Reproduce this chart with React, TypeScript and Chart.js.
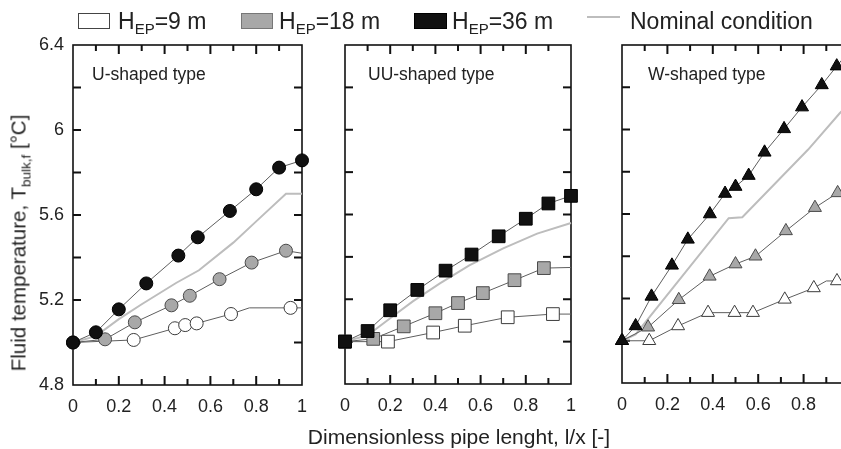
import React, { useEffect, useRef } from "react";
import { Chart, registerables } from "chart.js";
Chart.register(...registerables);

const FONT = "'Liberation Sans', Arial, Helvetica, sans-serif";

// ---- axis ticks ----
const xTicks = [0, 0.2, 0.4, 0.6, 0.8, 1];
const xInnerTicks = [0.1, 0.2, 0.3, 0.4, 0.5, 0.6, 0.7, 0.8, 0.9];
const yTicks = [4.8, 5.2, 5.6, 6, 6.4];
const yInnerTicks = [5.0, 5.2, 5.4, 5.6, 5.8, 6.0, 6.2];

// ---- labels ----
const legendValues = ["9 m", "18 m", "36 m"];
const nominalLabel = "Nominal condition";
const panelTitles = ["U-shaped type", "UU-shaped type", "W-shaped type"];

// ---- U-shaped type ----
const u36X = [0, 0.1, 0.2, 0.32, 0.46, 0.545, 0.685, 0.8, 0.9, 1.0];
const u36Y = [5.0, 5.048, 5.156, 5.278, 5.409, 5.495, 5.619, 5.721, 5.823, 5.857];
const u18X = [0, 0.14, 0.27, 0.43, 0.51, 0.64, 0.78, 0.93, 1.0];
const u18Y = [5.0, 5.015, 5.095, 5.175, 5.22, 5.298, 5.376, 5.432, 5.42];
const u18M = [1, 1, 1, 1, 1, 1, 1, 1, 0];
const u9X = [0, 0.265, 0.445, 0.49, 0.54, 0.69, 0.77, 0.95, 1.0];
const u9Y = [5.0, 5.012, 5.067, 5.082, 5.09, 5.134, 5.163, 5.163, 5.163];
const u9M = [1, 1, 1, 1, 1, 1, 0, 1, 0];
const uNomX = [0, 0.1, 0.2, 0.3, 0.45, 0.55, 0.7, 0.8, 0.93, 1.0];
const uNomY = [5.0, 5.03, 5.11, 5.18, 5.28, 5.34, 5.47, 5.57, 5.7, 5.7];

// ---- UU-shaped type ----
const uu36X = [0, 0.1, 0.2, 0.32, 0.445, 0.56, 0.68, 0.8, 0.9, 1.0];
const uu36Y = [5.0, 5.05, 5.148, 5.244, 5.335, 5.411, 5.497, 5.58, 5.652, 5.688];
const uu18X = [0, 0.125, 0.26, 0.4, 0.5, 0.61, 0.75, 0.88, 1.0];
const uu18Y = [5.0, 5.013, 5.072, 5.134, 5.182, 5.229, 5.29, 5.347, 5.35];
const uu18M = [1, 1, 1, 1, 1, 1, 1, 1, 0];
const uu9X = [0, 0.19, 0.39, 0.53, 0.72, 0.92, 1.0];
const uu9Y = [5.0, 5.0, 5.043, 5.075, 5.115, 5.13, 5.13];
const uu9M = [1, 1, 1, 1, 1, 1, 0];
const uuNomX = [0, 0.1, 0.2, 0.3, 0.42, 0.55, 0.7, 0.85, 1.0];
const uuNomY = [5.0, 5.03, 5.11, 5.19, 5.275, 5.36, 5.44, 5.51, 5.56];

// ---- W-shaped type ----
const w36X = [0, 0.06, 0.13, 0.22, 0.29, 0.387, 0.454, 0.5, 0.558, 0.628, 0.714, 0.793, 0.88, 0.946, 1.0];
const w36Y = [5.0, 5.07, 5.21, 5.357, 5.48, 5.6, 5.697, 5.73, 5.782, 5.892, 6.003, 6.106, 6.211, 6.3, 6.37];
const w36M = [1, 1, 1, 1, 1, 1, 1, 1, 1, 1, 1, 1, 1, 1, 0];
const w18X = [0, 0.115, 0.25, 0.386, 0.5, 0.588, 0.722, 0.85, 0.95, 1.0];
const w18Y = [5.0, 5.064, 5.194, 5.305, 5.363, 5.4, 5.52, 5.63, 5.7, 5.75];
const w18M = [1, 1, 1, 1, 1, 1, 1, 1, 1, 0];
const w9X = [0, 0.12, 0.247, 0.379, 0.496, 0.577, 0.717, 0.845, 0.9, 0.947, 1.0];
const w9Y = [5.0, 5.0, 5.07, 5.133, 5.133, 5.133, 5.196, 5.25, 5.283, 5.283, 5.283];
const w9M = [1, 1, 1, 1, 1, 1, 1, 1, 0, 1, 0];
const wNomX = [0, 0.06, 0.47, 0.53, 0.82, 0.96, 1.0];
const wNomY = [5.0, 5.03, 5.58, 5.585, 5.905, 6.078, 6.12];

type Series = { x: number[]; y: number[]; m?: number[] };

const panelData: { s36: Series; s18: Series; s9: Series; nom: Series }[] = [
  { s36: { x: u36X, y: u36Y }, s18: { x: u18X, y: u18Y, m: u18M }, s9: { x: u9X, y: u9Y, m: u9M }, nom: { x: uNomX, y: uNomY } },
  { s36: { x: uu36X, y: uu36Y }, s18: { x: uu18X, y: uu18Y, m: uu18M }, s9: { x: uu9X, y: uu9Y, m: uu9M }, nom: { x: uuNomX, y: uuNomY } },
  { s36: { x: w36X, y: w36Y, m: w36M }, s18: { x: w18X, y: w18Y, m: w18M }, s9: { x: w9X, y: w9Y, m: w9M }, nom: { x: wNomX, y: wNomY } },
];

// ---- layout (pixels) ----
const W = 841;
const H = 449;
const PLOT_TOP = 45;
const PAD_RIGHT = 20;
const layouts = [
  { canvasLeft: 0, plotLeft: 73, plotRight: 302, plotBottom: 385, titleDx: 19, showY: true, style: "circle", radius: 6.5 },
  { canvasLeft: 325, plotLeft: 345, plotRight: 571, plotBottom: 384, titleDx: 23, showY: false, style: "rect", radius: 9 },
  { canvasLeft: 602, plotLeft: 622, plotRight: 849, plotBottom: 383, titleDx: 26, showY: false, style: "triangle", radius: 7.5 },
];

const FILL = { s9: "#ffffff", s18: "#a8a8a8", s36: "#111111" };
const EDGE = { s9: "#3c3c3c", s18: "#4a4a4a", s36: "#000000" };

const isIn = (arr: number[], v: number) => arr.some((t) => Math.abs(t - v) < 1e-6);

const framePlugin = {
  id: "panelFrame",
  afterDraw(chart: any, _args: any, opts: any) {
    const { ctx, chartArea: a } = chart;
    ctx.save();
    ctx.fillStyle = "#222";
    ctx.font = `17.5px ${FONT}`;
    ctx.textBaseline = "alphabetic";
    ctx.textAlign = "left";
    ctx.fillText(opts.title, a.left + opts.dx, a.top + 34.5);
    ctx.restore();
  },
  beforeDatasetsDraw(chart: any) {
    const ctx: CanvasRenderingContext2D = chart.ctx;
    const a = chart.chartArea;
    const xs = chart.scales.x;
    const ys = chart.scales.y;
    ctx.save();
    ctx.fillStyle = "#111";
    const tw = 2;
    for (const v of xInnerTicks) {
      const px = xs.getPixelForValue(v);
      const len = isIn(xTicks, v) ? 9 : 6;
      ctx.fillRect(px - tw / 2, a.bottom - len, tw, len);
      ctx.fillRect(px - tw / 2, a.top, tw, len);
    }
    for (const v of yInnerTicks) {
      const py = ys.getPixelForValue(v);
      const len = 8;
      ctx.fillRect(a.left, py - tw / 2, len, tw);
      ctx.fillRect(a.right - len, py - tw / 2, len, tw);
    }
    ctx.strokeStyle = "#111";
    ctx.lineWidth = 1.6;
    ctx.strokeRect(a.left, a.top, a.right - a.left, a.bottom - a.top);
    ctx.restore();
  },
};

function seriesDataset(s: Series, key: "s9" | "s18" | "s36", style: string, radius: number, label: string) {
  return {
    label,
    data: s.x.map((x, i) => ({ x, y: s.y[i] })),
    showLine: true,
    borderColor: "#5e5e5e",
    borderWidth: 1,
    tension: 0,
    pointStyle: style,
    pointRadius: s.m ? s.m.map((v) => (v ? radius : 0)) : radius,
    pointHoverRadius: radius,
    pointBackgroundColor: FILL[key],
    pointBorderColor: EDGE[key],
    pointBorderWidth: 1,
    clip: false,
  };
}

function nominalDataset(s: Series) {
  return {
    label: nominalLabel,
    data: s.x.map((x, i) => ({ x, y: s.y[i] })),
    showLine: true,
    borderColor: "#bdbdbd",
    borderWidth: 2,
    tension: 0,
    pointRadius: 0,
    clip: false,
  };
}

const fmt = (v: any) => String(Number(Number(v).toFixed(1)));

export default function App() {
  const refs = [useRef<HTMLCanvasElement>(null), useRef<HTMLCanvasElement>(null), useRef<HTMLCanvasElement>(null)];

  useEffect(() => {
    Chart.defaults.font.family = FONT;
    Chart.defaults.color = "#222";
    const charts = layouts.map((L, i) => {
      const d = panelData[i];
      const canvas = refs[i].current as HTMLCanvasElement;
      return new Chart(canvas, {
        type: "scatter",
        data: {
          datasets: [
            seriesDataset(d.s36, "s36", L.style, L.radius, "H_EP=36 m"),
            seriesDataset(d.s18, "s18", L.style, L.radius, "H_EP=18 m"),
            seriesDataset(d.s9, "s9", L.style, L.radius, "H_EP=9 m"),
            nominalDataset(d.nom),
          ] as any,
        },
        options: {
          animation: false,
          responsive: false,
          maintainAspectRatio: false,
          events: [],
          layout: { padding: { top: PLOT_TOP, right: PAD_RIGHT, left: 0, bottom: 0 } },
          plugins: {
            legend: { display: false },
            tooltip: { enabled: false },
            panelFrame: { title: panelTitles[i], dx: L.titleDx },
          } as any,
          scales: {
            x: {
              type: "linear",
              min: 0,
              max: 1,
              grid: { display: false, drawTicks: false },
              border: { display: false },
              afterBuildTicks: (s: any) => {
                s.ticks = xTicks.map((v) => ({ value: v }));
              },
              afterFit: (s: any) => {
                s.height = H - L.plotBottom;
              },
              ticks: {
                padding: 11,
                autoSkip: false,
                maxRotation: 0,
                font: { size: 18, family: FONT },
                color: "#222",
                callback: fmt,
              },
            },
            y: {
              type: "linear",
              min: 4.8,
              max: 6.4,
              grid: { display: false, drawTicks: false },
              border: { display: false },
              afterBuildTicks: (s: any) => {
                s.ticks = yTicks.map((v) => ({ value: v }));
              },
              afterFit: (s: any) => {
                s.width = L.plotLeft - L.canvasLeft;
              },
              ticks: {
                display: L.showY,
                padding: 9,
                autoSkip: false,
                font: { size: 18, family: FONT },
                color: "#222",
                callback: fmt,
              },
            },
          } as any,
        },
        plugins: [framePlugin as any],
      });
    });
    return () => charts.forEach((c) => c.destroy());
  }, []);

  const legendText: React.CSSProperties = {
    position: "absolute",
    top: 10,
    fontSize: 23,
    lineHeight: "22px",
    whiteSpace: "nowrap",
    color: "#222",
  };
  const sub: React.CSSProperties = { fontSize: 15, position: "relative", top: 5, verticalAlign: "baseline" };
  const boxBase: React.CSSProperties = { position: "absolute", top: 13, height: 16, boxSizing: "border-box" };
  const legendX = [118, 279, 452];

  return (
    <div
      style={{
        position: "fixed",
        left: 0,
        top: 0,
        width: W,
        height: H,
        overflow: "hidden",
        background: "#fff",
        fontFamily: FONT,
        color: "#222",
      }}
    >
      {layouts.map((L, i) => (
        <canvas
          key={i}
          ref={refs[i]}
          width={L.plotRight + PAD_RIGHT - L.canvasLeft}
          height={H}
          style={{ position: "absolute", left: L.canvasLeft, top: 0 }}
        />
      ))}

      {/* legend */}
      <div style={{ ...boxBase, left: 78, width: 32, background: "#fff", border: "1px solid #444" }} />
      <div style={{ ...boxBase, left: 241, width: 32, background: "#a8a8a8", border: "1px solid #777" }} />
      <div style={{ ...boxBase, left: 414, width: 33, background: "#111", border: "1px solid #000" }} />
      <div style={{ position: "absolute", left: 587, top: 16, width: 33, height: 2, background: "#bdbdbd" }} />
      {legendValues.map((v, i) => (
        <span key={i} style={{ ...legendText, left: legendX[i] }}>
          H<span style={sub}>EP</span>={v}
        </span>
      ))}
      <span style={{ ...legendText, left: 630 }}>{nominalLabel}</span>

      {/* y axis title */}
      <div
        style={{
          position: "absolute",
          left: 20,
          top: 243,
          transform: "translate(-50%, -50%) rotate(-90deg)",
          whiteSpace: "nowrap",
          fontSize: 20.5,
          lineHeight: "22px",
        }}
      >
        Fluid temperature, T<span style={{ fontSize: 13.5, position: "relative", top: 5 }}>bulk,f</span> [°C]
      </div>

      {/* x axis title */}
      <div
        style={{
          position: "absolute",
          left: 459,
          top: 437,
          transform: "translate(-50%, -50%)",
          whiteSpace: "nowrap",
          fontSize: 21,
          lineHeight: "22px",
        }}
      >
        Dimensionless pipe lenght, l/x [-]
      </div>
    </div>
  );
}
